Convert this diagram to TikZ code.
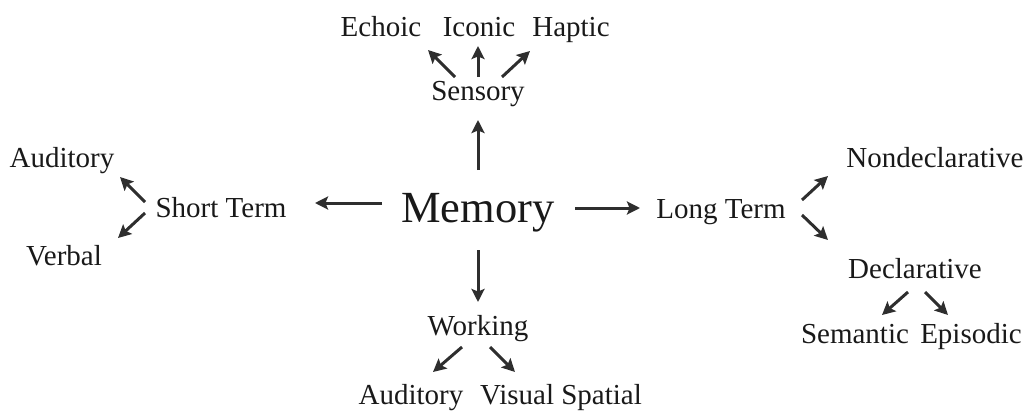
\documentclass[tikz,border=0pt]{standalone}
\usepackage{fontspec}
\setmainfont{Liberation Serif}
\usetikzlibrary{arrows.meta,calc}
\begin{document}
\begin{tikzpicture}[x=1pt,y=-1pt,
  lbl/.style={anchor=base,inner sep=0pt,text=black!90,font=\fontsize{29}{32}\selectfont},
  big/.style={anchor=base,inner sep=0pt,text=black!90,font=\fontsize{44.5}{48}\selectfont},
  arr/.style={draw=black!82,line width=3pt,-{Stealth[length=13pt,width=13pt,inset=2.5pt]}}]
\useasboundingbox (0,0) rectangle (1029,415);
\node[big] (memory) at (478,222) {Memory};
\node[lbl] (sensory) at (478,100) {Sensory};
\node[lbl] (echoic) at (381,36) {Echoic};
\node[lbl] (iconic) at (479,36) {Iconic};
\node[lbl] (haptic) at (571,36) {Haptic};
\node[lbl] (shortterm) at (221,217) {Short Term};
\node[lbl] (auditoryL) at (62,167) {Auditory};
\node[lbl] (verbal) at (64,265) {Verbal};
\node[lbl] (longterm) at (721,218) {Long Term};
\node[lbl] (nondecl) at (935,167) {Nondeclarative};
\node[lbl] (decl) at (915,278) {Declarative};
\node[lbl] (semantic) at (855,343) {Semantic};
\node[lbl] (episodic) at (971,343) {Episodic};
\node[lbl] (working) at (478,335) {Working};
\node[lbl] (auditoryB) at (411,404) {Auditory};
\node[lbl] (visual) at (561,404) {Visual Spatial};
% Sensory branches
\draw[arr] ($(sensory.base)+(-23,-23)$) -- ($(echoic.base)+(47,14)$);
\draw[arr] ($(sensory.base)+(0,-23)$) -- ($(iconic.base)+(-1,10)$);
\draw[arr] ($(sensory.base)+(24,-23)$) -- ($(haptic.base)+(-41,15)$);
% Memory branches
\draw[arr] ($(memory.base)+(0,-52)$) -- ($(sensory.base)+(0,20)$);
\draw[arr] ($(memory.base)+(-96,-19)$) -- ($(shortterm.base)+(94,-14)$);
\draw[arr] ($(memory.base)+(97,-14)$) -- ($(longterm.base)+(-81,-10)$);
\draw[arr] ($(memory.base)+(0,28)$) -- ($(working.base)+(0,-33)$);
% Short term
\draw[arr] ($(shortterm.base)+(-76,-15)$) -- ($(auditoryL.base)+(58,10)$);
\draw[arr] ($(shortterm.base)+(-76,-4)$) -- ($(verbal.base)+(54,-27)$);
% Long term
\draw[arr] ($(longterm.base)+(81,-18)$) -- ($(nondecl.base)+(-107,9)$);
\draw[arr] ($(longterm.base)+(81,-3)$) -- ($(decl.base)+(-87,-38)$);
% Declarative
\draw[arr] ($(decl.base)+(-7,14)$) -- ($(semantic.base)+(27,-28)$);
\draw[arr] ($(decl.base)+(10,14)$) -- ($(episodic.base)+(-23,-28)$);
% Working
\draw[arr] ($(working.base)+(-16,12)$) -- ($(auditoryB.base)+(22,-32)$);
\draw[arr] ($(working.base)+(12,12)$) -- ($(visual.base)+(-46,-32)$);
\end{tikzpicture}
\end{document}
